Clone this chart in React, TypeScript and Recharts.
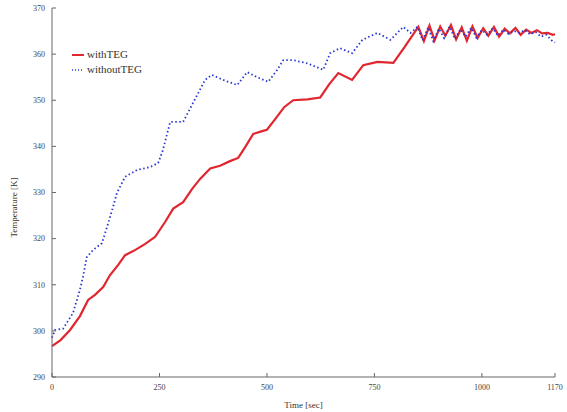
import { LineChart, Line, XAxis, YAxis } from 'recharts'

const withTime = [0, 20, 42, 65, 84, 100, 119, 135, 154, 170, 193, 216, 240, 263, 282, 305, 326, 345, 368, 391, 414, 433, 449, 468, 489, 500, 520, 540, 561, 594, 624, 645, 666, 698, 724, 757, 794, 820, 852,
  865, 878, 890, 903, 915, 928, 940, 953, 965, 978, 990, 1003, 1015, 1028, 1040, 1053, 1065, 1078, 1090, 1103, 1115, 1128, 1140, 1153, 1165, 1170]
const withTemp = [296.7, 298, 300.2, 303.2, 306.7, 307.8, 309.5, 312.1, 314.3, 316.4, 317.5, 318.8, 320.4, 323.6, 326.5, 327.9, 330.8, 333, 335.2, 335.8, 336.8, 337.5, 339.8, 342.7, 343.3, 343.6, 346, 348.5, 350, 350.2, 350.6, 353.5, 355.9, 354.4, 357.6, 358.3, 358.1, 361.5, 365.9,
  362.8, 366.2, 363.0, 366.0, 364.0, 366.3, 363.2, 365.8, 362.9, 366.0, 363.5, 365.6, 364.0, 365.9, 363.8, 365.5, 364.5, 365.7, 364.2, 365.3, 364.6, 365.2, 364.5, 364.6, 364.2, 364.3]

const withoutTime = [0, 7, 26, 49, 65, 72, 81, 95, 116, 128, 140, 151, 170, 198, 228, 247, 258, 275, 305, 328, 356, 372, 398, 431, 454, 477, 503, 524, 538, 561, 594, 631, 647, 670, 698, 722, 757, 787, 817, 834, 850,
  862, 875, 887, 900, 912, 925, 937, 950, 962, 975, 987, 1000, 1012, 1025, 1037, 1050, 1062, 1075, 1087, 1100, 1112, 1125, 1137, 1150, 1162, 1170]
const withoutTemp = [298.5, 300.2, 300.5, 303.9, 308.9, 311.7, 316, 317.5, 319, 322.5, 326.2, 329.9, 333.4, 334.9, 335.5, 336.4, 339.2, 345.3, 345.3, 349.4, 354.4, 355.5, 354.4, 353.3, 356.1, 355, 354, 356.6, 358.7, 358.7, 358, 356.6, 360.2, 361.3, 360.2, 363.1, 364.6, 363.1, 365.9, 364.6, 365.9,
  363.0, 365.8, 362.8, 365.5, 363.5, 366.0, 363.3, 365.4, 363.8, 365.7, 363.6, 365.2, 364.2, 365.6, 364.0, 365.3, 364.4, 365.0, 364.6, 365.2, 364.3, 364.8, 363.8, 364.2, 363.0, 362.5]

const xTicks = [0, 250, 500, 750, 1000, 1170]
const yTicks = [290, 300, 310, 320, 330, 340, 350, 360, 370]

const RED = '#e0262f'
const BLUE = '#2a36d4'

const withData = withTime.map((t, i) => ({ t, v: withTemp[i] }))
const withoutData = withoutTime.map((t, i) => ({ t, v: withoutTemp[i] }))

const font = '"Liberation Serif", "DejaVu Serif", serif'
const tick = { fontSize: 8, fill: '#444', stroke: 'none', fontFamily: font }

function LegendBox() {
  return (
    <div style={{ position: 'absolute', left: 72, top: 47, fontFamily: font, fontSize: 11, color: '#333', lineHeight: '15px' }}>
      <div style={{ display: 'flex', alignItems: 'center', gap: 3 }}>
        <svg width={12} height={4}><line x1={0} y1={2} x2={12} y2={2} stroke={RED} strokeWidth={2} /></svg>
        withTEG
      </div>
      <div style={{ display: 'flex', alignItems: 'center', gap: 3 }}>
        <svg width={12} height={4}><line x1={0} y1={2} x2={12} y2={2} stroke={BLUE} strokeWidth={1.5} strokeDasharray="1 2" /></svg>
        withoutTEG
      </div>
    </div>
  )
}

export default function App() {
  return (
    <div style={{ position: 'absolute', left: 0, top: 0, width: 567, height: 412, background: '#fff' }}>
      <LineChart width={567} height={412} margin={{ top: 8, right: 12, bottom: 0, left: 0 }}>
        <XAxis
          type="number"
          dataKey="t"
          domain={[0, 1170]}
          ticks={xTicks}
          allowDuplicatedCategory={false}
          height={35}
          stroke="#666"
          tickSize={-4}
          tickMargin={11}
          tick={tick}
          label={{ value: 'Time [sec]', position: 'insideBottom', offset: 4, style: { fontSize: 9, fill: '#333', fontFamily: font } }}
        />
        <YAxis
          type="number"
          domain={[290, 370]}
          ticks={yTicks}
          width={52}
          stroke="#666"
          tickSize={-4}
          tickMargin={11}
          tick={tick}
          label={{ value: 'Temperature [K]', angle: -90, position: 'insideLeft', offset: 14, dy: 15, style: { fontSize: 9, fill: '#333', fontFamily: font, textAnchor: 'middle' } }}
        />
        <Line data={withData} dataKey="v" stroke={RED} strokeWidth={2.2} dot={false} isAnimationActive={false} />
        <Line data={withoutData} dataKey="v" stroke={BLUE} strokeWidth={1.8} strokeDasharray="1.5 2.5" dot={false} isAnimationActive={false} />
      </LineChart>
      <LegendBox />
    </div>
  )
}
